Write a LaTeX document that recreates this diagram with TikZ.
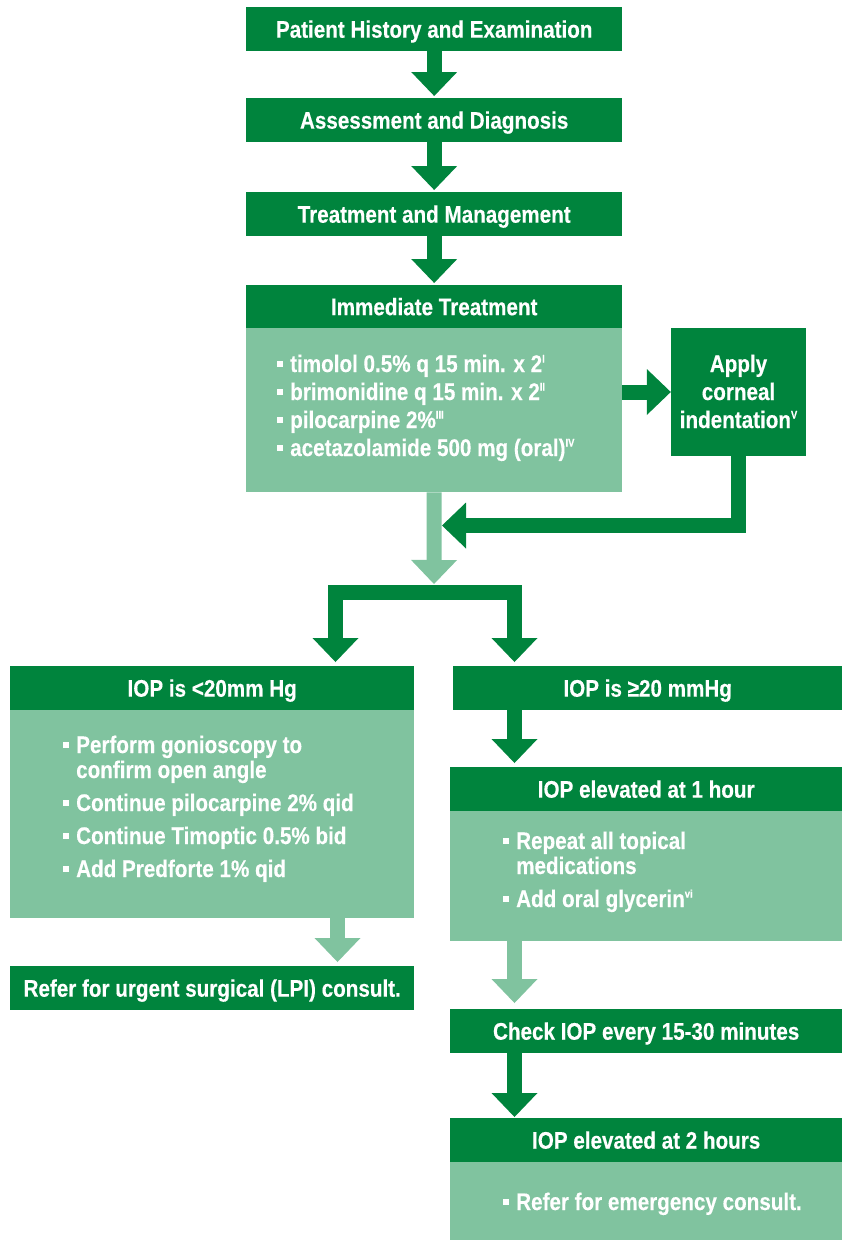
\documentclass[tikz,border=0pt]{standalone}
\usepackage{fontspec}
\setmainfont{Liberation Sans}[FakeStretch=0.86,FakeBold=0.3]
\usetikzlibrary{arrows.meta}
\definecolor{dk}{RGB}{0,132,61}
\definecolor{lt}{RGB}{128,195,159}
\newcommand\bul{\makebox[13pt][l]{\rule[5pt]{6pt}{6pt}}}
\newcommand\sups[1]{\raisebox{9.5pt}{\fontsize{11}{11}\selectfont #1}}
\newcommand\tf{\fontsize{24}{28}\selectfont\bfseries}
\newcommand\tfb{\fontsize{24}{25}\selectfont\bfseries}
\begin{document}
\begin{tikzpicture}[x=1pt,y=-1pt,
  hdr/.style={fill=dk,text=white,inner sep=0pt,minimum height=44pt,text height=17pt,text depth=0pt,font=\tf,anchor=north west},
  lbox/.style={fill=lt,inner sep=0pt,anchor=north west},
  txt/.style={text=white,inner sep=0pt,font=\tf,anchor=base west},
  darr/.style={draw=dk,line width=15pt,line join=miter,-{Triangle[length=24pt,width=46pt,line width=0pt 0]}},
  larr/.style={darr,draw=lt},
  barr/.style={draw=dk,line width=15pt,line join=miter,{Triangle[length=24pt,width=46pt,line width=0pt 0]}-{Triangle[length=24pt,width=46pt,line width=0pt 0]}}
]
\useasboundingbox (0,0) rectangle (842,1240);

% top column
\node[hdr,minimum width=376pt] (p1) at (246,7) {Patient History and Examination};
\node[hdr,minimum width=376pt] (p2) at (246,98) {Assessment and Diagnosis};
\node[hdr,minimum width=376pt] (p3) at (246,192) {Treatment and Management};
\node[hdr,minimum width=376pt,minimum height=43pt] (imh) at (246,285) {Immediate Treatment};
\node[lbox,minimum width=376pt,minimum height=164pt] (imb) at (246,328) {};
\node[txt] (imt) at (277,372) {\begin{tabular}[t]{@{}l@{}l@{}}
\bul&timolol 0.5\% q 15 min. x 2\sups{I}\\
\bul&brimonidine q 15 min. x 2\sups{II}\\
\bul&pilocarpine 2\%\sups{III}\\
\bul&acetazolamide 500 mg (oral)\sups{IV}
\end{tabular}};

\node[fill=dk,inner sep=0pt,minimum width=135pt,minimum height=128pt] (apply) at (738.5,392) {};
\node[txt,anchor=base] (applyt) at (738.5,372) {\begin{tabular}[t]{@{}c@{}}Apply\\corneal\\indentation\sups{V}\end{tabular}};

\draw[darr,shorten >=2pt] (p1.south) -- (p2.north);
\draw[darr,shorten >=2pt] (p2.south) -- (p3.north);
\draw[darr,shorten >=2pt] (p3.south) -- (imh.north);
\draw[darr] (apply.west -| imb.east) -- (apply.west);

\coordinate (join) at (442,525.5);
\coordinate (split) at (434,592.5);
\coordinate (ltip) at (335.5,662);
\coordinate (rtip) at (514.5,662);
\coordinate (rx) at (514.5,0);
\coordinate (lx) at (337.5,0);

\draw[larr] (imb.south) -- (434,584);
\draw[darr] (apply.south) |- (join);
\draw[barr] (ltip) |- (split) -| (rtip);

% left branch
\node[hdr,minimum width=404pt] (lh) at (10,666) {IOP is <20mm Hg};
\node[lbox,minimum width=404pt,minimum height=208pt] (lb) at (10,710) {};
\node[txt,font=\tfb] (lt) at (63,753) {\begin{tabular}[t]{@{}l@{}l@{}}
\bul&Perform gonioscopy to\\
&confirm open angle\\[8pt]
\bul&Continue pilocarpine 2\% qid\\[8pt]
\bul&Continue Timoptic 0.5\% bid\\[8pt]
\bul&Add Predforte 1\% qid
\end{tabular}};
\node[hdr,minimum width=404pt] (lr) at (10,966) {Refer for urgent surgical (LPI) consult.};
\draw[larr,shorten >=4pt] (lb.south -| lx) -- (lr.north -| lx);

% right branch
\node[hdr,minimum width=389pt] (rh) at (453,666) {IOP is ≥20 mmHg};
\node[hdr,minimum width=392pt] (r1h) at (450,767) {IOP elevated at 1 hour};
\node[lbox,minimum width=392pt,minimum height=130pt] (r1b) at (450,811) {};
\node[txt,font=\tfb] (r1t) at (503,849) {\begin{tabular}[t]{@{}l@{}l@{}}
\bul&Repeat all topical\\
&medications\\[8pt]
\bul&Add oral glycerin\sups{vi}
\end{tabular}};
\node[hdr,minimum width=392pt] (rc) at (450,1009) {Check IOP every 15-30 minutes};
\node[hdr,minimum width=392pt] (r2h) at (450,1118) {IOP elevated at 2 hours};
\node[lbox,minimum width=392pt,minimum height=78pt] (r2b) at (450,1162) {};
\node[txt] (r2t) at (503,1210) {\bul Refer for emergency consult.};

\draw[darr,shorten >=4pt] (rh.south -| rx) -- (r1h.north -| rx);
\draw[larr,shorten >=6pt] (r1b.south -| rx) -- (rc.north -| rx);
\draw[darr,shorten >=1pt] (rc.south -| rx) -- (r2h.north -| rx);
\end{tikzpicture}
\end{document}
